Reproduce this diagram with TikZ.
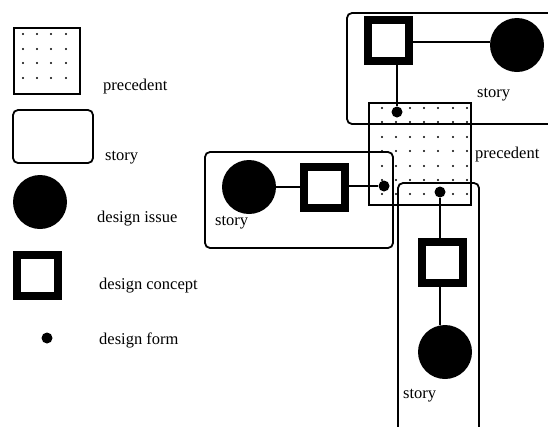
\documentclass[tikz,border=0pt]{standalone}
\usepackage{fontspec}
\setmainfont{Liberation Serif}
\begin{document}
\begin{tikzpicture}[x=1pt,y=-1pt]
\tikzset{
 issue/.style={circle,fill=black,minimum size=54pt,inner sep=0},
 concept/.style={draw=black,line width=8pt,minimum size=41pt,inner sep=0,fill=white},
 form/.style={circle,fill=black,minimum size=11pt,inner sep=0},
 storybox/.style={draw,line width=1.8pt,rounded corners=5pt},
 precbox/.style={draw,line width=1.8pt},
 pdot/.style={fill=black},
 lbl/.style={font=\fontsize{16.5}{17}\selectfont,inner sep=0,anchor=base west},
 link/.style={line width=1.6pt},
}
\useasboundingbox (0,0) rectangle (548,426);
\begin{scope}
\clip (0,0) rectangle (548,426);
% ---------- legend ----------
\draw[precbox] (14,28) rectangle (80,94);
\foreach \i in {23,37,51,66} \foreach \j in {34,49,63,78} \fill[pdot] (\i,\j) circle (1.1);
\node[lbl] (lprec) at (103,90) {precedent};
\draw[storybox] (13,110) rectangle (93,163);
\node[lbl] (lstory) at (105,160) {story};
\node[issue] (lissue) at (40,202) {};
\node[lbl] (lissuet) at (97,222) {design issue};
\node[concept] (lconcept) at (37,275) {};
\node[lbl] (lconceptt) at (99,289) {design concept};
\node[form] (lform) at (47,338) {};
\node[lbl] (lformt) at (99,344) {design form};
% ---------- precedent ----------
\draw[precbox] (369,103) rectangle (471,205);
\foreach \i in {382,396,410,424,438,453,467} \foreach \j in {108,122,137,151,166,180,194} \fill[pdot] (\i,\j) circle (1.1);
\node[lbl] (prect) at (475,158) {precedent};
% ---------- top story ----------
\draw[storybox] (347,13) rectangle (560,124);
\node[concept] (tc) at (388,40) {};
\node[issue] (ti) at (517,45) {};
\node[form] (tf) at (397,112) {};
\draw[link] (tc.east |- 0,42) -- (ti.west |- 0,42);
\draw[link] (tc.south -| tf) -- (tf);
\node[lbl] (tst) at (477,97) {story};
% ---------- left story ----------
\draw[storybox] (205,152) rectangle (393,248);
\node[issue] (li) at (249,187) {};
\node[concept] (lc) at (324,187) {};
\node[form] (lf) at (384,186) {};
\draw[link] (li) -- (lc);
\draw[link] (lc.east |- lf) -- (lf);
\node[lbl] (lst) at (215,225) {story};
% ---------- bottom story ----------
\draw[storybox] (398,183) rectangle (479,440);
\node[form] (bf) at (440,192) {};
\node[concept] (bc) at (442,262) {};
\node[issue] (bi) at (445,352) {};
\draw[link] (bf) -- (bf |- bc.north);
\draw[link] (bc.south -| bf) -- (bi.north -| bf);
\node[lbl] (bst) at (403,398) {story};
\end{scope}
\end{tikzpicture}
\end{document}
